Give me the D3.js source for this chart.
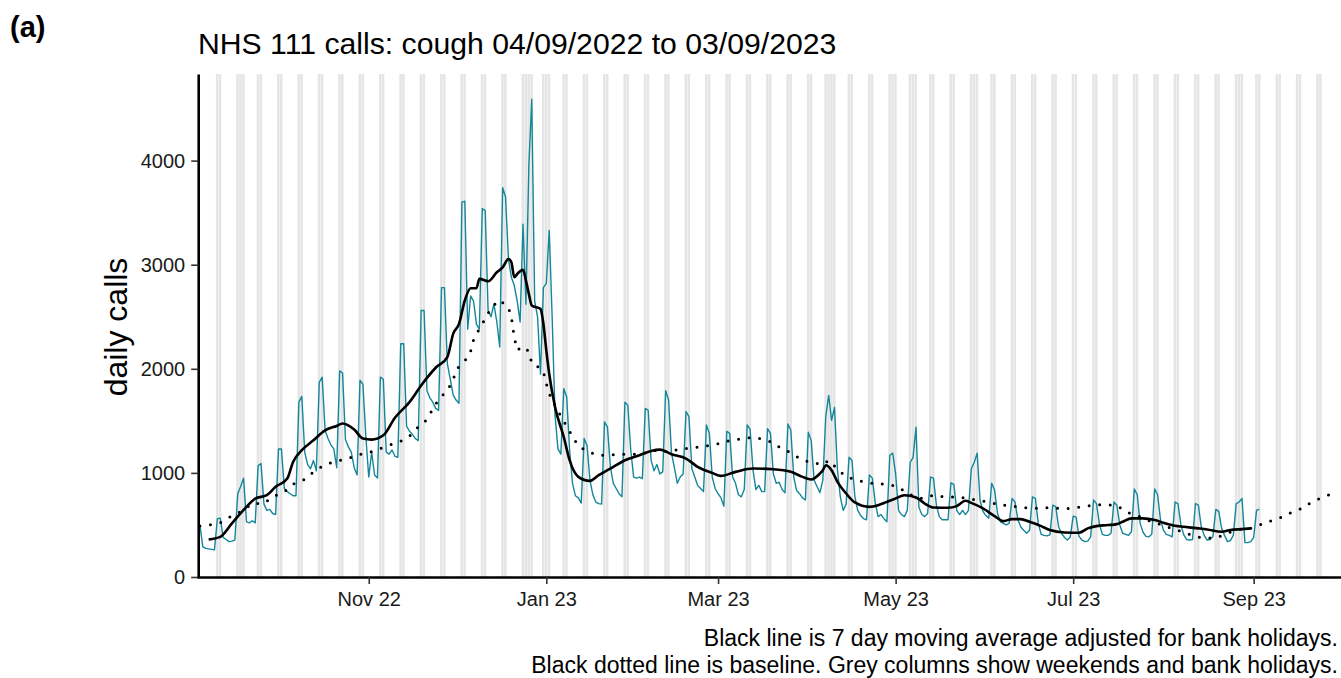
<!DOCTYPE html>
<html>
<head>
<meta charset="utf-8">
<script src="https://cdn.jsdelivr.net/npm/d3@7"></script>
<style>
  html, body { margin: 0; padding: 0; background: #fff; }
  svg { display: block; font-family: "Liberation Sans", Arial, Helvetica, sans-serif; }
</style>
</head>
<body>
<svg id="chart" width="1341" height="678"></svg>
<script>
// ---------------- DATA ----------------
const titleText = "NHS 111 calls: cough 04/09/2022 to 03/09/2023";
const panelLabel = "(a)";
const yLabel = "daily calls";
const captionLines = [
  "Black line is 7 day moving average adjusted for bank holidays.",
  "Black dotted line is baseline. Grey columns show weekends and bank holidays."
];
const yTicks = [0, 1000, 2000, 3000, 4000];
const xTicks = ["2022-11-01", "2023-01-01", "2023-03-01", "2023-05-01", "2023-07-01", "2023-09-01"];

// daily calls, starting Sunday 2022-09-04 (rows: Sat..Fri weeks)
const dailyStart = "2022-09-04";
const dailyCalls = [
  500, 290, 275, 270, 265, 260,
  560, 565, 380, 360, 340, 345, 355,
  800, 870, 950, 530, 520, 540, 520,
  1070, 1090, 700, 640, 650, 610, 600,
  1230, 1230, 850, 820, 800, 780, 780,
  1680, 1735, 1200, 1080, 1040, 1120, 1020,
  1870, 1920, 1410, 1330, 1270, 1230, 1050,
  1980, 1960, 1320, 1250, 1200, 1050, 980,
  1890, 1850, 1350, 960, 1200, 980, 950,
  1920, 1900, 1200, 1180, 1220, 1160, 1150,
  2240, 2240, 1450, 1400, 1370, 1330, 1310,
  2560, 2560, 1790, 1720, 1680, 1620, 1600,
  2780, 2780, 2050, 1900, 1750, 1700, 1670,
  3600, 3610, 2380, 2700, 2650, 2430, 2380,
  3540, 3520, 2560, 2500, 2620, 2450, 2210,
  3740, 3650, 3050, 2880, 2800, 2650, 2450,
  3390, 2620, 3950, 4590, 2650, 2500, 1950,
  2780, 2820, 3330, 2500, 1550, 1230, 1180,
  1810, 1730, 1220, 900, 780, 760, 710,
  1330, 1260, 930, 790, 720, 705, 700,
  1490, 1440, 1060, 900, 850, 800, 770,
  1680, 1650, 1220, 960, 950, 960, 945,
  1620, 1600, 1120, 1020, 1080, 990, 1010,
  1790, 1700, 1190, 1050, 900, 960, 990,
  1590, 1540, 1040, 960, 880, 850, 820,
  1460, 1380, 960, 850, 800, 760, 680,
  1400, 1380, 960, 900, 790, 770, 840,
  1460, 1420, 1030, 840, 880, 820, 820,
  1425, 1380, 990, 900, 910, 840, 810,
  1470, 1410, 960, 830, 800, 760, 740,
  1390, 1310, 930, 870, 810, 930, 1540,
  1745, 1505, 1630, 1030, 770, 640, 700,
  1150, 1120, 770, 640, 590, 560, 550,
  980, 950, 710, 580, 600, 560, 530,
  1170, 1190, 990, 640, 600, 580, 640,
  1100, 1150, 1440, 670, 600, 580, 610,
  960, 950, 690, 580, 550, 550, 550,
  905, 890, 640, 600, 640, 600, 640,
  1040, 1100, 1190, 740, 630, 590, 565,
  900, 835, 610, 530, 515, 500, 515,
  755, 720, 550, 480, 450, 420, 450,
  770, 755, 515, 410, 400, 395, 405,
  690, 675, 480, 420, 380, 355, 385,
  585, 575, 390, 355, 340, 345, 385,
  740, 705, 510, 410, 400, 400, 420,
  720, 690, 500, 420, 410, 400, 435,
  845, 790, 515, 430, 390, 386, 410,
  845, 790, 547, 450, 410, 400, 386,
  720, 705, 500, 405, 360, 355, 360,
  706, 690, 480, 400, 355, 360, 390,
  650, 630, 467, 400, 340, 350, 400,
  706, 720, 754, 330, 330, 340, 380,
  642, 650
];

// 7-day moving average
const maDates = ["2022-09-07","2022-09-11","2022-09-15","2022-09-20","2022-09-23","2022-09-27","2022-09-30","2022-10-04","2022-10-06","2022-10-09","2022-10-13","2022-10-17","2022-10-21","2022-10-23","2022-10-27","2022-10-30","2022-11-02","2022-11-06","2022-11-10","2022-11-15","2022-11-19","2022-11-24","2022-11-28","2022-11-30","2022-12-02","2022-12-04","2022-12-06","2022-12-08","2022-12-09","2022-12-12","2022-12-15","2022-12-17","2022-12-19","2022-12-20","2022-12-21","2022-12-22","2022-12-24","2022-12-25","2022-12-26","2022-12-27","2022-12-30","2022-12-31","2023-01-01","2023-01-02","2023-01-04","2023-01-07","2023-01-09","2023-01-12","2023-01-16","2023-01-19","2023-01-24","2023-01-28","2023-02-02","2023-02-06","2023-02-09","2023-02-13","2023-02-18","2023-02-22","2023-02-27","2023-03-02","2023-03-07","2023-03-13","2023-03-20","2023-03-26","2023-03-30","2023-04-02","2023-04-05","2023-04-06","2023-04-07","2023-04-09","2023-04-11","2023-04-14","2023-04-17","2023-04-22","2023-04-25","2023-04-28","2023-05-01","2023-05-04","2023-05-08","2023-05-11","2023-05-14","2023-05-19","2023-05-22","2023-05-25","2023-05-27","2023-05-31","2023-06-04","2023-06-07","2023-06-10","2023-06-13","2023-06-16","2023-06-20","2023-06-23","2023-06-28","2023-07-03","2023-07-06","2023-07-09","2023-07-13","2023-07-16","2023-07-18","2023-07-21","2023-07-25","2023-07-29","2023-08-01","2023-08-05","2023-08-08","2023-08-13","2023-08-16","2023-08-21","2023-08-24","2023-08-28","2023-08-31"];
const maValues = [361,386,515,674,754,786,866,946,1105,1218,1313,1409,1451,1474,1416,1330,1320,1361,1530,1680,1840,2010,2112,2336,2432,2656,2774,2774,2864,2841,2927,2975,3055,3023,2879,2911,2950,2848,2720,2608,2576,2432,2176,1950,1633,1345,1122,962,923,978,1058,1122,1170,1211,1224,1179,1138,1058,1000,971,1010,1042,1035,1010,962,937,994,1026,1074,1026,914,802,716,674,690,722,754,786,764,706,668,665,681,732,712,659,585,537,556,556,530,489,451,428,425,467,489,499,508,530,563,563,547,521,492,482,467,457,435,451,460,467];

// baseline
const baseDates = ["2022-09-04","2022-09-07","2022-09-11","2022-09-15","2022-09-19","2022-09-22","2022-09-26","2022-09-29","2022-10-03","2022-10-06","2022-10-10","2022-10-13","2022-10-16","2022-10-20","2022-10-24","2022-10-28","2022-11-01","2022-11-05","2022-11-08","2022-11-12","2022-11-15","2022-11-18","2022-11-21","2022-11-23","2022-11-25","2022-11-28","2022-11-30","2022-12-01","2022-12-04","2022-12-06","2022-12-07","2022-12-09","2022-12-11","2022-12-13","2022-12-16","2022-12-19","2022-12-20","2022-12-21","2022-12-22","2022-12-24","2022-12-26","2022-12-27","2022-12-28","2022-12-31","2023-01-01","2023-01-02","2023-01-04","2023-01-06","2023-01-08","2023-01-10","2023-01-12","2023-01-16","2023-01-19","2023-01-23","2023-01-27","2023-01-31","2023-02-04","2023-02-08","2023-02-12","2023-02-16","2023-02-20","2023-02-24","2023-02-28","2023-03-04","2023-03-08","2023-03-12","2023-03-16","2023-03-19","2023-03-23","2023-03-26","2023-03-30","2023-04-02","2023-04-06","2023-04-08","2023-04-11","2023-04-14","2023-04-17","2023-04-21","2023-04-25","2023-04-28","2023-05-02","2023-05-05","2023-05-10","2023-05-14","2023-05-18","2023-05-22","2023-05-26","2023-05-30","2023-06-03","2023-06-06","2023-06-10","2023-06-14","2023-06-18","2023-06-22","2023-06-26","2023-06-30","2023-07-04","2023-07-08","2023-07-12","2023-07-16","2023-07-20","2023-07-24","2023-07-28","2023-07-31","2023-08-04","2023-08-08","2023-08-12","2023-08-16","2023-08-20","2023-08-23","2023-08-27","2023-08-31","2023-09-03","2023-09-07","2023-09-11","2023-09-14","2023-09-18","2023-09-21","2023-09-25","2023-09-27"];
const baseValues = [490,499,521,588,642,706,706,770,818,891,937,1010,1064,1109,1131,1170,1195,1234,1265,1304,1352,1441,1512,1614,1705,1793,1892,1991,2074,2168,2279,2384,2480,2586,2662,2586,2496,2300,2180,2215,2167,2055,2049,1969,1857,1761,1649,1544,1448,1352,1256,1198,1167,1173,1179,1179,1192,1218,1201,1230,1237,1256,1272,1304,1322,1339,1330,1300,1232,1194,1122,1103,1080,1122,1037,962,937,904,895,890,866,802,754,786,767,770,754,735,712,693,681,666,660,665,659,659,674,690,698,685,617,578,530,505,465,430,386,371,386,422,457,467,499,540,578,620,665,722,770,790];

// shading
const shadeStart = "2022-09-10";
const shadeEnd = "2023-09-24";
const bankHolidays = ["2022-09-19","2022-12-26","2022-12-27","2023-01-02","2023-04-07","2023-04-10","2023-05-01","2023-05-08","2023-05-29","2023-08-28"];

// ---------------- CHART ----------------
const parse = d3.utcParse("%Y-%m-%d");
const DAY = 864e5;
const svg = d3.select("#chart");

const plot = { left: 197, right: 1341, top: 74, bottom: 577 };

const x = d3.scaleUtc()
  .domain([parse("2022-09-03"), parse("2023-10-01")])
  .range([plot.left, plot.right]);
const y = d3.scaleLinear()
  .domain([0, 4832])
  .range([plot.bottom, plot.top]);

// grey columns
const bh = new Set(bankHolidays);
const shadeDays = [];
for (let t = parse(shadeStart).getTime(); t <= parse(shadeEnd).getTime(); t += DAY) {
  const d = new Date(t);
  const wd = d.getUTCDay();
  if (wd === 0 || wd === 6 || bh.has(d3.utcFormat("%Y-%m-%d")(d))) shadeDays.push(d);
}
const dayW = x(parse("2022-09-05")) - x(parse("2022-09-04"));
svg.append("g").selectAll("rect").data(shadeDays).join("rect")
  .attr("x", d => x(d) - dayW / 2)
  .attr("y", plot.top)
  .attr("width", dayW - 0.4)
  .attr("height", plot.bottom - plot.top)
  .attr("fill", "#e5e5e5");

// daily series
const s0 = parse(dailyStart).getTime();
const daily = dailyCalls.map((v, i) => ({ date: new Date(s0 + i * DAY), value: v }));
svg.append("path")
  .datum(daily)
  .attr("fill", "none")
  .attr("stroke", "#14869a")
  .attr("stroke-width", 1.4)
  .attr("stroke-linejoin", "round")
  .attr("d", d3.line().x(d => x(d.date)).y(d => y(d.value)));

// baseline dotted
const base = baseDates.map((d, i) => ({ date: parse(d), value: baseValues[i] }));
svg.append("path")
  .datum(base)
  .attr("fill", "none")
  .attr("stroke", "#000")
  .attr("stroke-width", 3)
  .attr("stroke-linecap", "round")
  .attr("stroke-dasharray", "0,10.6")
  .attr("d", d3.line().x(d => x(d.date)).y(d => y(d.value)));

// moving average
const ma = maDates.map((d, i) => ({ date: parse(d), value: maValues[i] }));
svg.append("path")
  .datum(ma)
  .attr("fill", "none")
  .attr("stroke", "#000")
  .attr("stroke-width", 2.6)
  .attr("stroke-linejoin", "round")
  .attr("d", d3.line().curve(d3.curveMonotoneX).x(d => x(d.date)).y(d => y(d.value)));

// axes
const yAxis = svg.append("g")
  .attr("transform", `translate(${plot.left + 1.2},0)`)
  .call(d3.axisLeft(y).tickValues(yTicks).tickSize(7).tickSizeOuter(0).tickPadding(6).tickFormat(d3.format("d")));
yAxis.select(".domain").attr("stroke", "#000").attr("stroke-width", 2.6);
yAxis.selectAll(".tick line").attr("stroke", "#333").attr("stroke-width", 1.6);
yAxis.selectAll(".tick text").attr("font-size", 20).attr("fill", "#1a1a1a")
  .attr("font-family", '"Liberation Sans", Arial, sans-serif');

const xAxis = svg.append("g")
  .attr("transform", `translate(0,${plot.bottom})`)
  .call(d3.axisBottom(x).tickValues(xTicks.map(parse)).tickSize(7).tickSizeOuter(0).tickPadding(8)
    .tickFormat(d3.utcFormat("%b %y")));
xAxis.select(".domain").attr("stroke", "#000").attr("stroke-width", 2.6);
xAxis.selectAll(".tick line").attr("stroke", "#333").attr("stroke-width", 1.6);
xAxis.selectAll(".tick text").attr("font-size", 20).attr("fill", "#1a1a1a")
  .attr("font-family", '"Liberation Sans", Arial, sans-serif');

// texts
svg.append("text").attr("x", 10).attr("y", 37)
  .attr("font-size", 29).attr("font-weight", "bold").attr("fill", "#000").text(panelLabel);
svg.append("text").attr("x", 198).attr("y", 54)
  .attr("font-size", 30.2).attr("fill", "#000").text(titleText);
svg.append("text")
  .attr("transform", "translate(127,327) rotate(-90)")
  .attr("text-anchor", "middle")
  .attr("font-size", 32).attr("fill", "#000").text(yLabel);
svg.selectAll(".cap").data(captionLines).join("text")
  .attr("class", "cap")
  .attr("x", 1338).attr("y", (d, i) => 646 + i * 27)
  .attr("text-anchor", "end")
  .attr("font-size", 23).attr("fill", "#000").text(d => d);
</script>
</body>
</html>
